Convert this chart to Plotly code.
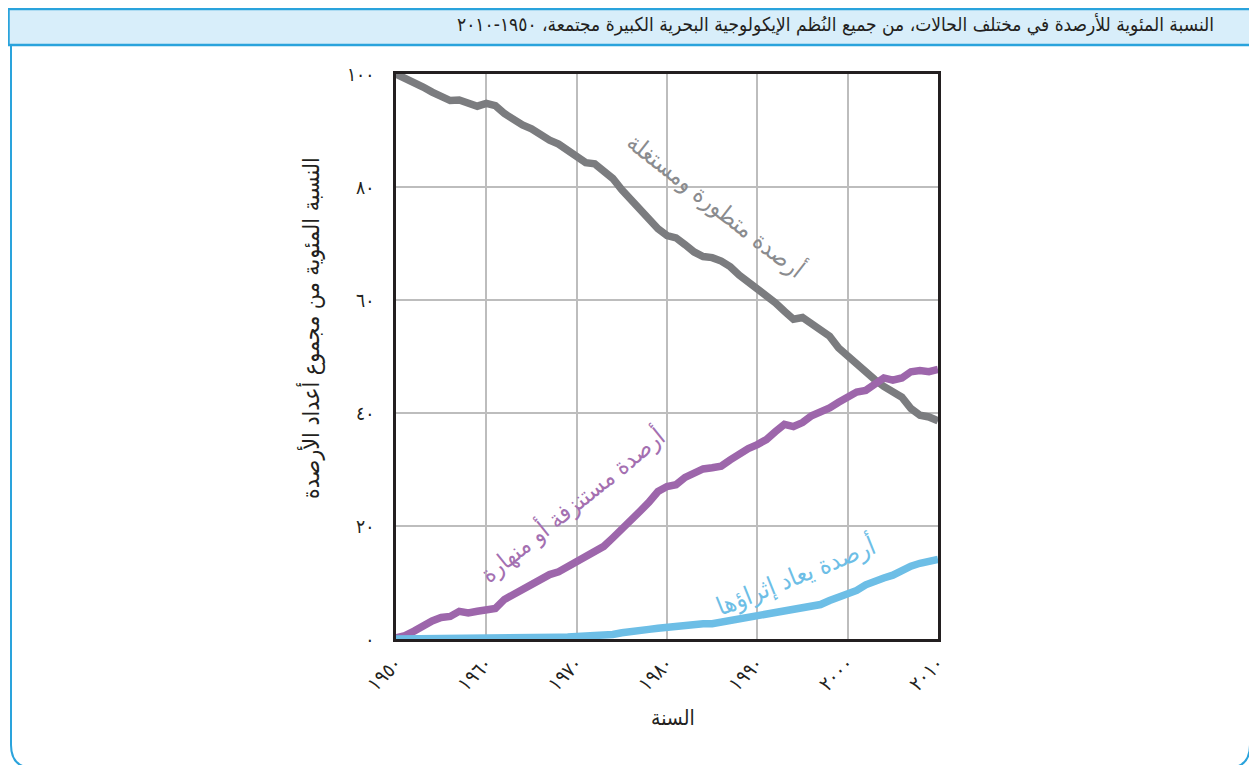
import plotly.graph_objects as go

years = list(range(1950, 2011))

developed_exploited = [
    100, 99.3, 98.5, 97.7, 96.8, 96.1, 95.3, 95.4, 94.9, 94.3,
    94.8, 94.4, 93.0, 91.8, 91.0, 90.3, 89.2, 88.3, 87.6, 86.5,
    85.6, 84.3, 84.1, 82.8, 81.5, 79.5, 77.7, 76.4, 74.6, 72.6,
    71.4, 71.0, 69.8, 68.5, 67.7, 67.5, 66.9, 65.9, 64.4, 63.2,
    62.1, 60.8, 59.5, 58.0, 56.6, 56.9, 55.7, 54.5, 53.6, 51.5,
    50.0, 48.6, 47.2, 45.9, 44.7, 43.8, 42.8, 40.8, 39.6, 39.3,
    38.6,
]

overexploited_collapsed = [
    0.2, 0.6, 1.4, 2.4, 3.2, 3.8, 4.0, 4.9, 4.6, 4.9,
    5.3, 5.4, 7.0, 7.9, 8.8, 9.7, 10.6, 11.4, 11.9, 12.8,
    13.5, 14.6, 15.3, 16.4, 17.9, 19.6, 21.3, 22.6, 24.2, 26.1,
    27.0, 27.3, 28.6, 29.4, 30.1, 30.3, 30.6, 31.7, 32.8, 33.7,
    34.4, 35.3, 36.7, 38.0, 37.6, 38.3, 39.5, 40.1, 40.9, 41.9,
    42.8, 43.7, 44.0, 45.0, 46.2, 45.8, 46.2, 47.3, 47.5, 47.3,
    47.7,
]

rebuilding = [
    0.0, 0.0, 0.0, 0.0, 0.0, 0.0, 0.05, 0.05, 0.05, 0.1,
    0.1, 0.1, 0.1, 0.15, 0.15, 0.2, 0.2, 0.25, 0.3, 0.35,
    0.4, 0.45, 0.5, 0.5, 0.8, 1.1, 1.2, 1.5, 1.7, 1.9,
    2.1, 2.2, 2.5, 2.8, 2.7, 2.7, 3.0, 3.4, 3.7, 3.9,
    4.0, 4.4, 4.7, 5.0, 5.2, 5.6, 5.8, 6.1, 6.8, 7.4,
    7.9, 8.6, 9.6, 10.3, 10.8, 11.3, 12.2, 12.9, 13.4, 13.9,
    14.1,
]

x_tickvals = [1950, 1960, 1970, 1980, 1990, 2000, 2010]
x_ticktext = ["١٩٥٠", "١٩٦٠", "١٩٧٠", "١٩٨٠", "١٩٩٠", "٢٠٠٠", "٢٠١٠"]
y_tickvals = [0, 20, 40, 60, 80, 100]
y_ticktext = ["٠", "٢٠", "٤٠", "٦٠", "٨٠", "١٠٠"]

title_text = "النسبة المئوية للأرصدة في مختلف الحالات، من جميع النُظم الإيكولوجية البحرية الكبيرة مجتمعة، ١٩٥٠-٢٠١٠"
y_title = "النسبة المئوية من مجموع أعداد الأرصدة"
x_title = "السنة"
label_grey = "أرصدة متطورة ومستغلة"
label_purple = "أرصدة مستنزفة أو منهارة"
label_blue = "أرصدة يعاد إثراؤها"

GREY = "#7b7c7f"
PURPLE = "#9d66ab"
BLUE = "#6dbee6"
FONT = "DejaVu Sans Condensed, DejaVu Sans, sans-serif"

OFF = 8  # page body margin
W, H = 1257 - OFF, 765 - OFF
L, R, T, B = 396 - OFF, 938 - OFF, 74 - OFF, 639 - OFF


def px(x_ref):
    return (x_ref - OFF - L) / (R - L)


def py(y_ref):
    return (B - (y_ref - OFF)) / (B - T)


fig = go.Figure()
fig.add_trace(go.Scatter(x=years, y=developed_exploited, mode="lines",
                         line=dict(color=GREY, width=7.5), showlegend=False))
fig.add_trace(go.Scatter(x=years, y=overexploited_collapsed, mode="lines",
                         line=dict(color=PURPLE, width=7.5), showlegend=False))
fig.add_trace(go.Scatter(x=years, y=rebuilding, mode="lines",
                         line=dict(color=BLUE, width=7.5), showlegend=False))

fig.update_layout(
    width=W, height=H,
    margin=dict(l=L, r=W - R, t=T, b=H - B),
    paper_bgcolor="white", plot_bgcolor="white",
    font=dict(family=FONT, color="#231f20"),
    showlegend=False,
)

fig.update_xaxes(
    range=[1950, 2010], tickvals=x_tickvals, ticktext=x_ticktext,
    tickangle=-45, tickfont=dict(size=20, color="#231f20"),
    showgrid=True, gridcolor="#bdbdbd", gridwidth=1.5,
    showline=True, mirror=True, linecolor="#231f20", linewidth=2.5,
    zeroline=False, ticks="", ticklabelstandoff=2,
)
fig.update_yaxes(
    range=[0, 100], tickvals=y_tickvals, ticktext=y_ticktext,
    tickfont=dict(size=19, color="#231f20"),
    showgrid=True, gridcolor="#bdbdbd", gridwidth=1.5,
    showline=True, mirror=True, linecolor="#231f20", linewidth=2.5,
    zeroline=False, ticks="", ticklabelstandoff=15,
)

shapes = [
    # card outline (bottom edge runs just off the page)
    dict(type="path", xref="paper", yref="paper",
         path=(f"M {px(11)} {py(45)} L {px(11)} {py(745)} "
               f"Q {px(11)} {py(768)} {px(34)} {py(768)} "
               f"L {px(1227)} {py(768)} "
               f"Q {px(1250)} {py(768)} {px(1250)} {py(745)} "
               f"L {px(1250)} {py(45)}"),
         line=dict(color="#2aa3dc", width=2), layer="below"),
    # title bar
    dict(type="rect", xref="paper", yref="paper",
         x0=px(8.5), x1=px(1255), y0=py(45), y1=py(9),
         fillcolor="#d8eefa", line=dict(color="#2aa3dc", width=2.5), layer="below"),
]
fig.update_layout(shapes=shapes)

annotations = [
    dict(text=title_text, xref="paper", yref="paper", x=px(1216), y=py(24),
         xanchor="right", yanchor="middle", showarrow=False,
         font=dict(size=19, color="#231f20", family=FONT)),
    dict(text=y_title, xref="paper", yref="paper", x=px(310), y=py(328),
         xanchor="center", yanchor="middle", textangle=-90, showarrow=False,
         font=dict(size=23, color="#231f20", family=FONT)),
    dict(text=x_title, xref="paper", yref="paper", x=px(673), y=py(718),
         xanchor="center", yanchor="middle", showarrow=False,
         font=dict(size=21, color="#231f20", family=FONT)),
    dict(text=label_grey, xref="paper", yref="paper", x=px(716), y=py(205),
         xanchor="center", yanchor="middle", textangle=38, showarrow=False,
         font=dict(size=24, color="#8a8b8e", family=FONT)),
    dict(text=label_purple, xref="paper", yref="paper", x=px(572), y=py(505),
         xanchor="center", yanchor="middle", textangle=-39, showarrow=False,
         font=dict(size=24, color="#a470b1", family=FONT)),
    dict(text=label_blue, xref="paper", yref="paper", x=px(795), y=py(575),
         xanchor="center", yanchor="middle", textangle=-22, showarrow=False,
         font=dict(size=25, color="#6dbee6", family=FONT)),
]
fig.update_layout(annotations=annotations)

fig.write_html("out.html")
